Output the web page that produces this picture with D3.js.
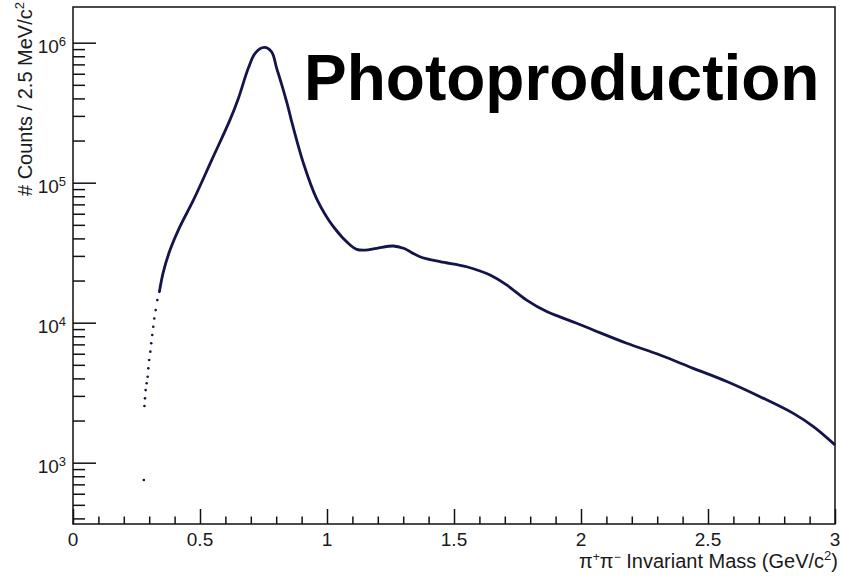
<!DOCTYPE html>
<html>
<head>
<meta charset="utf-8">
<script src="https://cdn.jsdelivr.net/npm/d3@7"></script>
<style>
  html, body { margin: 0; padding: 0; background: #fff; }
  svg { display: block; font-family: "Liberation Sans", Arial, Helvetica, sans-serif; }
</style>
</head>
<body>
<svg id="chart" width="841" height="576"></svg>
<script>
// ---- data ----
// isolated threshold bins (drawn as separate dots)
const thresholdMass   = [0.2788, 0.2813, 0.2835, 0.286, 0.290, 0.294, 0.2965, 0.300, 0.3045, 0.308, 0.312, 0.316, 0.320, 0.3255, 0.332, 0.340];
const thresholdCounts = [752, 2540, 2880, 3300, 3690, 4110, 4720, 5420, 6210, 7130, 8170, 9360, 10700, 12300, 14500, 16600];

// dense part of the spectrum (drawn as a continuous trace)
const curveMass   = [0.340, 0.3555, 0.382, 0.421, 0.474, 0.546, 0.618, 0.651, 0.690, 0.717, 0.753, 0.782, 0.802, 0.822, 0.848, 0.861, 0.907, 0.959, 1.025, 1.091, 1.117, 1.150, 1.196, 1.261, 1.301, 1.366, 1.445, 1.550, 1.642, 1.707, 1.786, 1.865, 1.917, 1.983, 2.048, 2.180, 2.311, 2.442, 2.574, 2.705, 2.836, 2.915, 3.000];
const curveCounts = [16600, 23000, 33000, 48500, 75000, 145000, 281000, 400000, 656000, 840000, 925000, 860000, 656000, 499000, 340000, 273000, 138000, 77000, 48500, 35900, 33400, 33000, 34000, 35300, 34000, 29600, 27300, 25100, 21900, 18600, 14500, 12000, 11000, 9900, 8870, 7130, 5880, 4720, 3800, 2960, 2250, 1810, 1340];

const xMajorTicks = [0, 0.5, 1, 1.5, 2, 2.5, 3];
const xTickLabels = ["0", "0.5", "1", "1.5", "2", "2.5", "3"];
const yMajorTicks = [1e3, 1e4, 1e5, 1e6];
const yTickExponents = ["3", "4", "5", "6"];

const titleText = "Photoproduction";

// ---- layout ----
const fLeft = 73, fRight = 835, fTop = 7, fBottom = 524;
const svg = d3.select("#chart");

const x = d3.scaleLinear().domain([0, 3]).range([fLeft, fRight]);
const y = d3.scaleLog().domain([Math.pow(10, 2.562), Math.pow(10, 6.255)]).range([fBottom, fTop]);

const axisColor = "#111";
const textColor = "#1a1a1a";
const markColor = "#14144a";

// x minor ticks
const xMinor = d3.range(0, 31).map(i => i / 10).filter(v => xMajorTicks.indexOf(v) < 0);
svg.append("g").attr("transform", `translate(0,${fBottom})`)
  .call(d3.axisBottom(x).tickValues(xMinor).tickSizeInner(-7.5).tickSizeOuter(0).tickFormat(""))
  .call(g => g.select(".domain").remove())
  .call(g => g.selectAll("line").attr("stroke", axisColor).attr("stroke-width", 1.5));
// x major ticks
svg.append("g").attr("transform", `translate(0,${fBottom})`)
  .call(d3.axisBottom(x).tickValues(xMajorTicks).tickSizeInner(-15).tickSizeOuter(0).tickFormat(""))
  .call(g => g.select(".domain").remove())
  .call(g => g.selectAll("line").attr("stroke", axisColor).attr("stroke-width", 1.5));
// x labels
svg.append("g").selectAll("text").data(xMajorTicks).join("text")
  .attr("x", d => x(d)).attr("y", 546)
  .attr("text-anchor", "middle").attr("font-size", 19).attr("fill", textColor)
  .text((d, i) => xTickLabels[i]);

// y minor ticks
const yMinor = [];
[100, 1000, 10000, 100000, 1000000].forEach(dec => {
  for (let k = 2; k <= 9; k++) {
    const v = dec * k;
    if (v >= y.domain()[0] && v <= y.domain()[1]) yMinor.push(v);
  }
});
svg.append("g").attr("transform", `translate(${fLeft},0)`)
  .call(d3.axisLeft(y).tickValues(yMinor).tickSizeInner(-12).tickSizeOuter(0).tickFormat(""))
  .call(g => g.select(".domain").remove())
  .call(g => g.selectAll("line").attr("stroke", axisColor).attr("stroke-width", 1.5));
svg.append("g").attr("transform", `translate(${fLeft},0)`)
  .call(d3.axisLeft(y).tickValues(yMajorTicks).tickSizeInner(-23).tickSizeOuter(0).tickFormat(""))
  .call(g => g.select(".domain").remove())
  .call(g => g.selectAll("line").attr("stroke", axisColor).attr("stroke-width", 1.5));
// y labels 10^n
const yl = svg.append("g").selectAll("text").data(yMajorTicks).join("text")
  .attr("x", 66).attr("y", d => y(d) + 10)
  .attr("text-anchor", "end").attr("font-size", 19).attr("fill", textColor);
yl.append("tspan").text("10");
yl.append("tspan").attr("font-size", 13).attr("dy", -7).text((d, i) => yTickExponents[i]);

// frame
svg.append("rect").attr("x", fLeft).attr("y", fTop)
  .attr("width", fRight - fLeft).attr("height", fBottom - fTop)
  .attr("fill", "none").attr("stroke", axisColor).attr("stroke-width", 1.5);

// axis titles
const xt = svg.append("text").attr("x", 838).attr("y", 568)
  .attr("text-anchor", "end").attr("font-size", 20).attr("fill", textColor);
xt.append("tspan").text("\u03c0");
xt.append("tspan").attr("font-size", 12).attr("dy", -7).text("+");
xt.append("tspan").attr("dy", 7).text("\u03c0");
xt.append("tspan").attr("font-size", 12).attr("dy", -7).text("\u2212");
xt.append("tspan").attr("dy", 7).text(" Invariant Mass (GeV/c");
xt.append("tspan").attr("font-size", 13).attr("dy", -8).text("2");
xt.append("tspan").attr("dy", 8).text(")");

const ytt = svg.append("text").attr("transform", "translate(32,2) rotate(-90)")
  .attr("text-anchor", "end").attr("font-size", 20).attr("fill", textColor);
ytt.append("tspan").text("# Counts / 2.5 MeV/c");
ytt.append("tspan").attr("font-size", 13).attr("dy", -8).text("2");

// data
const curveData = curveMass.map((m, i) => ({ m, c: curveCounts[i] }));
const line = d3.line().x(d => x(d.m)).y(d => y(d.c)).curve(d3.curveCatmullRom.alpha(0.5));
svg.append("path").datum(curveData).attr("d", line)
  .attr("fill", "none").attr("stroke", markColor).attr("stroke-width", 2.8)
  .attr("stroke-linejoin", "round");

const dots = thresholdMass.map((m, i) => ({ m, c: thresholdCounts[i] }));
svg.append("g").selectAll("circle").data(dots).join("circle")
  .attr("cx", d => x(d.m)).attr("cy", d => y(d.c)).attr("r", 1.3)
  .attr("fill", markColor);

// big label
svg.append("text").attr("x", 304).attr("y", 100)
  .attr("font-size", 64).attr("font-weight", "bold").attr("fill", "#000")
  .text(titleText);
</script>
</body>
</html>
